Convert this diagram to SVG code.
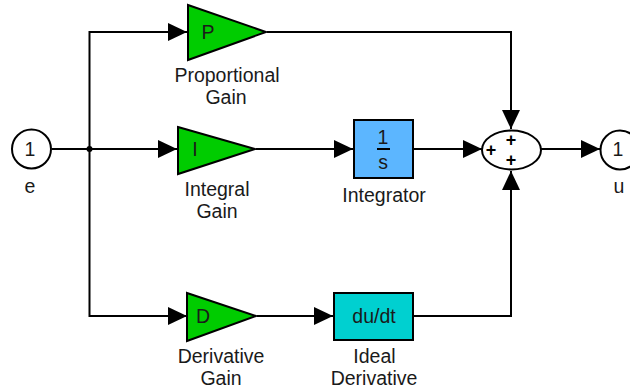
<svg xmlns="http://www.w3.org/2000/svg" width="630" height="392" viewBox="0 0 630 392">
<style>
text{font-family:"Liberation Sans",Arial,sans-serif;font-size:19.5px;fill:#1a1a1a;text-anchor:middle}
.s{font-size:18px;font-weight:bold;fill:#000}
.b{stroke:#000;stroke-width:2}
.w{fill:#fff}
.g{fill:#00cc00}
.c{fill:none;stroke:#000;stroke-width:2}
</style>
<defs><marker id="a" markerUnits="userSpaceOnUse" markerWidth="20" markerHeight="20" refX="19" refY="10" orient="auto"><path d="M0 1L19 10L0 19Z" fill="#000"/></marker></defs>
<rect width="630" height="392" fill="#fff"/>
<g id="connectors">
<path class="c" d="M52 149H177" marker-end="url(#a)"/>
<path class="c" d="M89.500 149V32H187" marker-end="url(#a)"/>
<path class="c" d="M89.500 149V316H187" marker-end="url(#a)"/>
<path class="c" d="M256 149H353" marker-end="url(#a)"/>
<path class="c" d="M267 32H511V129" marker-end="url(#a)"/>
<path class="c" d="M414 149H482" marker-end="url(#a)"/>
<path class="c" d="M541 149H600" marker-end="url(#a)"/>
<path class="c" d="M257 316H333" marker-end="url(#a)"/>
<path class="c" d="M414 316H511V171" marker-end="url(#a)"/>
<circle cx="89.500" cy="149" r="3" fill="#000"/>
</g>
<g id="in1"><circle class="b w" cx="31.500" cy="149" r="19.500"/><text x="30" y="156">1</text><text x="30" y="193">e</text></g>
<g id="pgain"><path class="b g" d="M188 5L266 32L188 60Z"/><text x="208" y="39">P</text><text x="227" y="82">Proportional</text><text x="226" y="104">Gain</text></g>
<g id="igain"><path class="b g" d="M178 127L255 149L178 174Z"/><text x="195" y="156">I</text><text x="217" y="196">Integral</text><text x="217" y="218">Gain</text></g>
<g id="dgain"><path class="b g" d="M187 293L256 316L187 341Z"/><text x="203" y="323">D</text><text x="221" y="363">Derivative</text><text x="221" y="385">Gain</text></g>
<g id="integrator"><rect class="b" x="354" y="120" width="59" height="58" fill="#5cb6ff"/><text x="383" y="144">1</text><path d="M377 149H390" stroke="#000" stroke-width="2"/><text x="383" y="169">s</text><text x="384" y="202">Integrator</text></g>
<g id="derivative"><rect class="b" x="334" y="293" width="79" height="47" fill="#00d0d0"/><text x="374" y="323">du/dt</text><text x="374.500" y="363">Ideal</text><text x="374" y="385">Derivative</text></g>
<g id="sum"><ellipse class="b w" cx="511.500" cy="150" rx="29.500" ry="19.500"/><text class="s" x="511" y="146">+</text><text class="s" x="491" y="156">+</text><text class="s" x="511" y="166">+</text></g>
<g id="out1"><circle class="b w" cx="620" cy="150" r="19.500"/><text x="618" y="156">1</text><text x="619" y="193">u</text></g>
</svg>
